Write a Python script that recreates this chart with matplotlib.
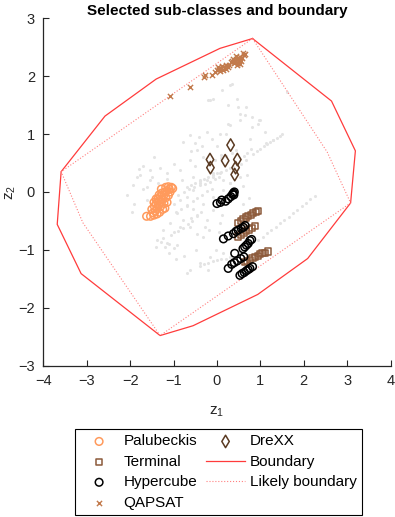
import numpy as np
import matplotlib.pyplot as plt

plt.rcParams['font.family'] = ['Liberation Sans', 'DejaVu Sans']
plt.rcParams['mathtext.default'] = 'regular'

# background instances (grey)
bg_x = [-0.20, -0.08, 0.11, 0.30, 0.47, 0.26, 0.68, 0.64, 0.53, 0.97, 0.30, 0.80, 1.61, 0.34, -0.16,
        0.49, 0.53, 0.80, 0.26, 0.95, 1.10, -0.24, -0.62, -0.78, -0.12, 0.07, 0.20, 0.76, 1.14, 1.30, 0.99,
        0.84, 0.92, 1.00, 1.08, 1.15, 1.22, 1.30, 1.38, 1.45, 1.49,
        -1.54, -1.31, -1.00, -1.16, -0.85, -0.62, -0.47, -0.32, 0.09, -0.54, -0.39, -0.08, 0.07, 0.15, 0.30, 0.53, -1.62,
        -0.70, -0.60, -0.50, -0.40, -0.30, -0.20, -0.10, 0.00, 0.10, 0.20, 0.30, 0.38,
        -2.08, -1.93, -1.77, -1.54, -1.62, -1.00, -0.85, -0.70, -0.54, -0.39, -0.24, -0.08, -0.93, -0.78, -0.62,
        -1.08, -1.24, -1.39, -1.16, -0.93, -0.47, -0.32, -0.62, -0.39, -0.16, -0.24, -0.08, -0.32, -0.08, 0.15,
        0.30, 0.07, -0.01, 0.15,
        -1.30, -1.20, -1.10, -1.00, -1.25, -0.70, -0.20, -0.40, -0.30, -0.20, -0.10, 0.00, 0.10, 0.20, 0.30,
        0.95, 1.05, 1.15, 1.25, 1.35, 1.45, 1.55, 1.65, 1.75, 1.85, 1.95, 2.05, 2.15, 2.26,
        -0.55, -0.45, -0.70, -0.60, -0.85, -1.00, -0.50, -0.80, -1.90, -1.80, -0.35, 0.00, 0.60, 0.70, 0.60, 0.75,
        -0.90, -0.75, -0.65, -0.52, -0.40, -0.28, -0.15, -0.05, 0.05, -0.95, -0.82, -0.68, -0.55, -0.45,
        -0.35, -0.22, -0.12, -1.05, -0.90, -0.78, -0.66, -0.58, -0.46, -0.36, -1.70, -1.85, -1.70, -1.45,
        -1.95, -0.15, -0.05, 0.10, 0.22, 0.35, 0.45, -0.60, -0.50, -0.42, -1.35, -1.50, -1.15, -0.28, -0.18,
        0.62, 0.70, 0.78, 0.55, 0.68, -0.75, -0.95, -1.10, -1.40, -0.48, 0.12, 0.05]
bg_y = [1.58, 1.61, 1.76, 1.84, 1.61, 1.50, 1.47, 1.33, 1.24, 1.25, 1.15, 1.12, 1.73, 1.86, 1.58,
        1.47, 1.35, 1.29, 1.18, 1.18, 1.04, 1.04, 0.98, 0.86, 0.92, 1.00, 1.00, 0.92, 0.84, 0.89, 1.24,
        0.66, 0.70, 0.74, 0.79, 0.82, 0.86, 0.90, 0.94, 0.97, 1.00,
        0.38, 0.41, 0.49, 0.32, 0.38, 0.55, 0.72, 0.61, 0.63, 0.26, 0.20, 0.26, 0.32, 0.20, 0.15, 0.26, 0.09,
        0.09, 0.12, 0.16, 0.19, 0.23, 0.26, 0.29, 0.32, 0.35, 0.38, 0.41, 0.43,
        -0.06, 0.12, 0.29, 0.20, -0.14, -0.20, -0.14, -0.08, 0.03, 0.15, 0.20, 0.32, -0.37, -0.49, -0.60,
        -0.54, -0.66, -0.83, -0.89, -0.92, -0.72, -0.77, -1.35, -1.23, -1.12, -0.49, -0.31, -0.20, -0.08, 0.03,
        0.15, -0.54, -1.00, -1.06,
        -0.86, -0.95, -0.90, -0.97, -0.80, -1.40, -1.35, -1.28, -1.25, -1.22, -1.20, -1.18, -1.16, -1.15, -1.13,
        -0.83, -0.77, -0.71, -0.66, -0.60, -0.54, -0.49, -0.43, -0.37, -0.31, -0.25, -0.19, -0.13, -0.07,
        -0.30, -0.40, -0.25, -0.45, -0.60, -0.70, 0.45, 0.20, -0.20, 0.40, 0.80, 0.80, 0.10, 0.30, -0.20, -0.10,
        -0.05, 0.00, 0.05, 0.08, 0.12, 0.14, 0.18, 0.22, 0.25, -0.35, -0.30, -0.22, -0.15, -0.10,
        -0.05, 0.02, 0.05, -0.75, -0.68, -0.62, -0.55, -0.50, -0.42, -0.35, 0.05, 0.25, 0.45, 0.60,
        -0.35, 0.50, 0.55, 0.58, 0.62, 0.68, 0.72, 0.70, 0.85, 0.95, 0.15, 0.25, 0.22, -0.60, -0.65,
        0.62, 0.68, 0.74, 0.48, 0.55, -1.10, -1.15, -1.05, -0.95, -1.00, -0.40, -0.70]

palu_x = [-1.62, -1.53, -1.47, -1.50, -1.42, -1.44, -1.38, -1.40, -1.35, -1.33, -1.30, -1.28, -1.36,
          -1.30, -1.25, -1.22, -1.27, -1.20, -1.18, -1.15, -1.12, -1.10, -1.08, -1.05, -1.02, -1.15,
          -1.22, -1.25, -1.32, -1.45, -1.38, -1.20, -1.12, -1.28, -1.33, -1.18, -1.40, -1.45]
palu_y = [-0.42, -0.42, -0.36, -0.30, -0.33, -0.25, -0.28, -0.20, -0.22, -0.15, -0.25, -0.18, -0.12,
          -0.08, -0.12, -0.05, -0.02, 0.00, -0.10, 0.02, -0.06, 0.05, 0.00, 0.08, 0.06, -0.18,
          -0.20, -0.30, -0.35, -0.40, -0.38, -0.28, 0.09, 0.05, -0.05, 0.08, -0.12, -0.18]

term_x = [0.49, 0.55, 0.61, 0.67, 0.72, 0.78, 0.84, 0.90, 0.95,
          0.49, 0.55, 0.61, 0.67, 0.74, 0.80, 0.88,
          0.64, 0.70, 0.76, 0.82, 0.88, 0.94, 0.99, 1.05, 1.10, 1.18]
term_y = [-0.53, -0.50, -0.47, -0.44, -0.42, -0.40, -0.37, -0.35, -0.33,
          -0.77, -0.74, -0.71, -0.68, -0.65, -0.62, -0.59,
          -1.21, -1.19, -1.17, -1.14, -1.12, -1.10, -1.07, -1.06, -1.05, -1.03]

hyper_x = [0.00, 0.08, 0.11, 0.20, 0.26, 0.32, 0.36, 0.38, 0.40, 0.39,
           0.15, 0.26, 0.38, 0.49, 0.56, 0.61, 0.65, 0.44,
           0.60, 0.64, 0.68, 0.72, 0.76, 0.80,
           0.26, 0.34, 0.41, 0.40, 0.47, 0.55, 0.62,
           0.53, 0.58, 0.63, 0.68, 0.72, 0.76, 0.82]
hyper_y = [-0.20, -0.18, -0.14, -0.16, -0.12, -0.08, -0.04, -0.02, 0.00, -0.05,
           -0.81, -0.76, -0.72, -0.66, -0.63, -0.61, -0.58, -0.68,
           -0.98, -0.95, -0.92, -0.89, -0.84, -0.82,
           -1.32, -1.25, -1.06, -1.22, -1.19, -1.15, -1.12,
           -1.44, -1.41, -1.39, -1.36, -1.34, -1.32, -1.29]

qap_x = [-1.07, -0.62, -0.30, -0.27, -0.12, -0.05, 0.00, 0.05, 0.10, 0.08, 0.15, 0.18, 0.22, 0.25,
         0.12, 0.20, 0.03, 0.28, 0.32, 0.35, 0.38, 0.42, 0.45, 0.40, 0.48, 0.50, 0.52, 0.55, 0.44,
         0.58, 0.62, 0.65, 0.60, 0.47, 0.53]
qap_y = [1.65, 1.81, 1.98, 2.02, 2.02, 2.08, 2.10, 2.12, 2.14, 2.09, 2.10, 2.16, 2.12, 2.15,
         2.18, 2.20, 2.15, 2.20, 2.24, 2.27, 2.30, 2.25, 2.30, 2.22, 2.22, 2.28, 2.33, 2.26, 2.35,
         2.31, 2.36, 2.38, 2.40, 2.19, 2.21]

drexx_x = [0.315, -0.16, -0.15, 0.19, 0.47, 0.43, 0.41]
drexx_y = [0.81, 0.56, 0.42, 0.54, 0.56, 0.42, 0.30]

bound_x = [0.82, 0.07, -1.40, -2.58, -3.59, -3.68, -3.13, -1.31, -0.55, 0.94, 2.09, 3.08, 3.19, 2.64, 0.82]
bound_y = [2.65, 2.48, 1.95, 1.31, 0.35, -0.56, -1.41, -2.48, -2.31, -1.77, -1.15, -0.19, 0.71, 1.57, 2.65]

likely_x = [0.82, -3.59, -3.09, -1.31, 3.08, 2.54, 0.82]
likely_y = [2.65, 0.35, -0.53, -2.48, -0.19, 0.69, 2.65]

fig = plt.figure(figsize=(3.95, 5.17), dpi=100)
ax = fig.add_axes([0.1097, 0.2927, 0.879, 0.672])

ax.scatter(bg_x, bg_y, s=5, color='#e4e4e4', linewidths=0, zorder=1)
h1 = ax.scatter(palu_x, palu_y, s=30, marker='o', facecolors='none', edgecolors='#ff9a5c',
                linewidths=1.1, label='Palubeckis', zorder=3)
h2 = ax.scatter(term_x, term_y, s=20, marker='s', facecolors='none', edgecolors='#8c5a3a',
                linewidths=1.1, label='Terminal', zorder=3)
h3 = ax.scatter(hyper_x, hyper_y, s=30, marker='o', facecolors='none', edgecolors='black',
                linewidths=1.1, label='Hypercube', zorder=3)
h4 = ax.scatter(qap_x, qap_y, s=14, marker='x', color='#c27a4c', linewidths=1.0,
                label='QAPSAT', zorder=3)
h5 = ax.scatter(drexx_x, drexx_y, s=40, marker='d', facecolors='none', edgecolors='#5a3a22',
                linewidths=1.1, label='DreXX', zorder=3)
h6, = ax.plot(bound_x, bound_y, color='#ff3b3b', lw=0.9, label='Boundary', zorder=2)
h7, = ax.plot(likely_x, likely_y, color='#ff8080', lw=0.8, ls=':', label='Likely boundary', zorder=2)

ax.set_xlim(-4, 4)
ax.set_ylim(-3, 3)
ax.set_xticks(np.arange(-4, 5, 1))
ax.set_yticks(np.arange(-3, 4, 1))
ax.spines['top'].set_visible(False)
ax.spines['right'].set_visible(False)
for s in ['left', 'bottom']:
    ax.spines[s].set_color('#262626')
    ax.spines[s].set_linewidth(0.9)
ax.tick_params(direction='in', length=4, width=0.8, colors='#262626', labelsize=10.5, pad=6)
ax.set_xlabel('z$_1$', fontsize=11, color='#262626', labelpad=12)
ax.set_ylabel('z$_2$', fontsize=11, color='#262626', labelpad=0)
ax.set_title('Selected sub-classes and boundary', fontsize=11, fontweight='bold', pad=2)

leg = fig.legend(handles=[h1, h2, h3, h4, h5, h6, h7], ncol=2, loc='upper center',
                 bbox_to_anchor=(0.553, 0.170), fontsize=11, frameon=True, fancybox=False,
                 edgecolor='black', framealpha=1, handlelength=2.5, columnspacing=0.6,
                 labelspacing=0.42, borderpad=0.35, handletextpad=0.35, borderaxespad=0)
leg.get_frame().set_linewidth(0.8)

fig.savefig('out.png', dpi=100)
